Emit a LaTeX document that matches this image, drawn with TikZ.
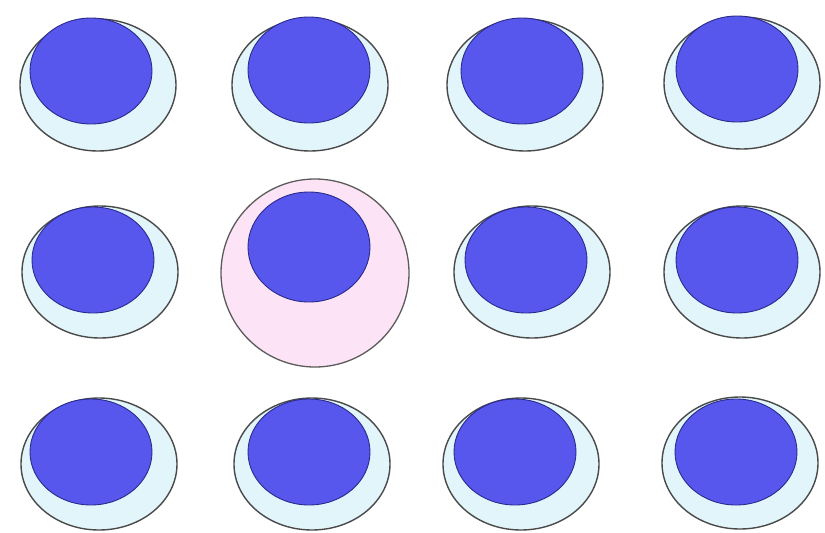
\documentclass[tikz,border=0pt]{standalone}
\usepackage{tikz}
\definecolor{cellfill}{HTML}{E2F5FB}
\definecolor{pinkfill}{HTML}{FDE3F6}
\definecolor{nucfill}{HTML}{5757EE}
\definecolor{nucline}{HTML}{2A2A8A}
\definecolor{cellline}{HTML}{4A4A4A}
\tikzset{
  cellbody/.style={fill=cellfill,draw=cellline,line width=1.4pt},
  bigcell/.style={fill=pinkfill,draw=cellline!90,line width=1.3pt},
  nucleus/.style={fill=nucfill,draw=nucline,line width=0.9pt}
}
\newcommand{\cellat}[4]{% outer cx, cy ; nucleus cx, cy
  \path[cellbody] (#1,#2) ellipse [x radius=78,y radius=66];
  \path[nucleus] (#3,#4) ellipse [x radius=61,y radius=53];
}
\begin{document}
\begin{tikzpicture}[x=1pt,y=-1pt]
\useasboundingbox (0,0) rectangle (825,533);
\fill[white] (0,0) rectangle (825,533);
% row 1
\cellat{98}{85}{91}{71}
\cellat{310}{85}{309}{70}
\cellat{525}{85}{522}{71}
\cellat{742}{83}{737}{69}
% row 2
\cellat{100}{272}{93}{260}
\path[bigcell] (315,273) ellipse [x radius=94,y radius=94];
\path[nucleus] (309,247) ellipse [x radius=61,y radius=55];
\cellat{532}{272}{526}{260}
\cellat{742}{272}{737}{260}
% row 3
\cellat{99}{464}{91}{452}
\cellat{312}{464}{309}{452}
\cellat{521}{464}{515}{452}
\cellat{740}{463}{736}{452}
\end{tikzpicture}
\end{document}
